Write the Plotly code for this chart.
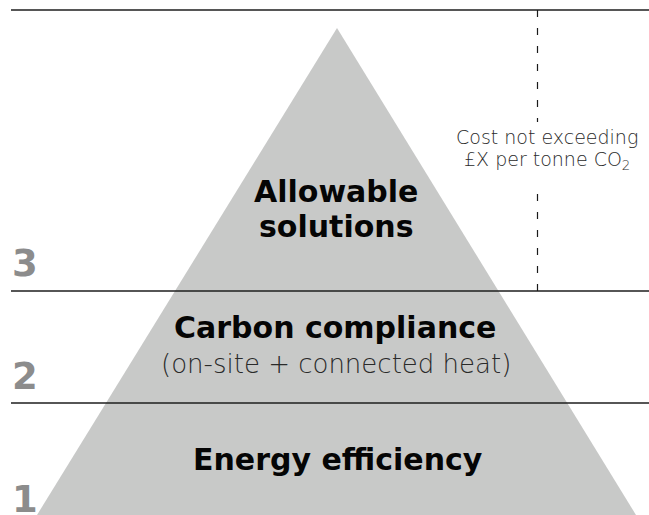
import plotly.graph_objects as go

# ---- diagram content ----
tier_numbers = ["3", "2", "1"]
tier_number_y = [263, 376, 499]
boundary_y = [10, 291, 403]          # horizontal rules
pyramid_x = [37, 337, 636, 37]       # base-left, apex, base-right
pyramid_y = [515, 28, 515, 515]

titles = ["Allowable", "solutions", "Carbon compliance", "Energy efficiency"]
title_x = [336, 336, 335, 338]
title_y = [191, 226, 327, 459]

subtitle = "(on-site + connected heat)"
cost_lines = ["Cost not exceeding", "£X per tonne CO<sub>2</sub>"]
cost_y = [137, 160]
limit_x = 537.5
limit_segments = [(10, 122), (291, 183)]

W, H = 649, 515
fig = go.Figure()

fig.add_trace(go.Scatter(
    x=pyramid_x, y=pyramid_y, mode="lines", fill="toself",
    fillcolor="#c8c9c8", line=dict(width=0), hoverinfo="skip", showlegend=False))

for y in boundary_y:
    fig.add_trace(go.Scatter(x=[11, W], y=[y, y], mode="lines",
                             line=dict(color="#1e1e1e", width=1.4),
                             hoverinfo="skip", showlegend=False))

for y0, y1 in limit_segments:
    fig.add_trace(go.Scatter(x=[limit_x, limit_x], y=[y0, y1], mode="lines",
                             line=dict(color="#1a1a1a", width=1.2, dash="7px,11px"),
                             hoverinfo="skip", showlegend=False))

for t, x, y in zip(titles, title_x, title_y):
    fig.add_annotation(x=x, y=y, text=t, showarrow=False, xanchor="center", yanchor="middle",
                       font=dict(family="DejaVu Sans", size=30, color="#050505", weight="bold"))

fig.add_annotation(x=336, y=364, text=subtitle, showarrow=False, xanchor="center", yanchor="middle",
                   font=dict(family="DejaVu Sans", size=26, color="#2a2a2a", weight=300))

for t, y in zip(cost_lines, cost_y):
    fig.add_annotation(x=547, y=y, text=t, showarrow=False, xanchor="center", yanchor="middle",
                       font=dict(family="DejaVu Sans", size=19, color="#2a2a2a", weight=300))

for t, y in zip(tier_numbers, tier_number_y):
    fig.add_annotation(x=25, y=y, text=t, showarrow=False, xanchor="center", yanchor="middle",
                       font=dict(family="DejaVu Sans", size=37, color="#8c8c8c", weight="bold"))

fig.update_layout(
    width=W, height=H, margin=dict(l=0, r=0, t=0, b=0),
    paper_bgcolor="white", plot_bgcolor="white",
    xaxis=dict(range=[0, W], visible=False, fixedrange=True),
    yaxis=dict(range=[H, 0], visible=False, fixedrange=True),
)

fig.write_html(
    "out.html",
    config={"displayModeBar": False},
    post_script="document.body.style.margin='0';document.body.style.overflow='hidden';",
)
